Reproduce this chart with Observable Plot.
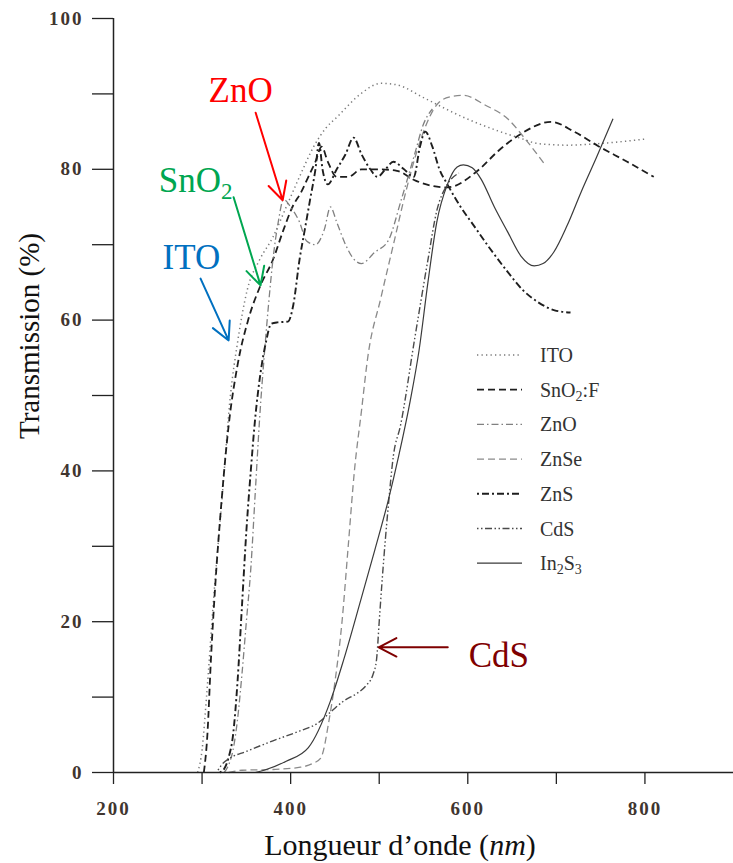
<!DOCTYPE html>
<html><head><meta charset="utf-8">
<script src="https://cdn.jsdelivr.net/npm/d3@7"></script>
<script src="https://cdn.jsdelivr.net/npm/@observablehq/plot@0.6"></script>
<style>body{margin:0;background:#fff}</style>
</head><body><div id="chart"></div>
<script>
// ---- data: wavelength (nm), transmission (%) ----
const ITO = [[295,0],[300,3],[305,10],[313,23],[323,37],[332,50],[340,57],[351,64],[365,68],[380,71],[395,75],[410,79],[426,83],[440,85.5],[453,87],[479,90],[502,91.4],[520,91.2],[550,89.5],[595,86.9],[634,85.1],[660,84.1],[680,83.4],[713,83.2],[747,83.4],[800,84]];
const SnO2F = [[302,0],[306,5],[310,15],[315,25],[322,36],[330,46],[340,54],[352,60],[366,64.6],[380,68],[392,72],[402,75],[412,77],[420,79],[428,81],[435,83],[442,81],[452,79],[465,79],[480,80],[500,80],[520,79.8],[541,78.5],[560,77.8],[577,77.6],[611,79.8],[635,82.5],[660,84.7],[694,86.3],[720,85],[747,83.1],[780,81],[810,79]];
const ZnO = [[325,0],[330,1],[335,3],[340,7],[345,13],[350,20],[355,27],[360,37],[365,47],[370,55],[375,62],[380,68],[386,73],[392,76],[400,75],[410,73],[418,70.5],[428,70],[438,72],[445,75],[452,73],[462,70],[472,68],[480,67.5],[495,69],[510,70.5],[525,76],[540,82],[550,86],[560,88]];
const ZnSe = [[330,0],[345,0.3],[380,0.4],[411,0.7],[425,1.2],[434,1.9],[437,2.9],[442,6],[450,12],[458,20],[465,30],[472,40],[480,48],[487,55],[502,63],[516,70],[530,77],[547,84],[566,88.7],[580,89.6],[595,89.8],[620,88.5],[645,86.7],[665,84],[686,80.8]];
const ZnS = [[320,0],[325,0.5],[330,2],[335,5],[340,12],[345,22],[350,32],[355,40],[360,47],[366,53],[372,57],[378,59.5],[385,59.7],[397,59.8],[403,62],[410,68],[416,72],[422,76],[428,80],[432,83.5],[436,80],[442,78],[452,80],[462,82],[471,84.2],[480,82],[490,80],[498,79],[507,80],[516,81],[528,80],[539,79],[546,83],[552,85],[560,83],[568,80],[577,78],[592,75],[607,72.5],[625,69.5],[645,66.4],[662,64],[679,62.4],[698,61.3],[716,61]];
const CdS = [[318,0.3],[322,1],[330,1.8],[350,2.8],[380,4.2],[410,5.5],[430,6.5],[445,8],[460,9.5],[475,10.5],[485,11.5],[493,13],[497,15],[500,20],[503,25],[507,31],[510,35],[516,42],[524,46],[540,57.5],[555,68],[565,74.5],[577,78],[590,79.5]];
const In2S3 = [[360,0],[370,0.3],[395,1.5],[420,3.3],[445,9.5],[460,15],[479,22.8],[495,29.5],[510,36],[522,42],[535,49.3],[545,56],[555,65],[565,73],[577,78],[588,80.3],[595,80.6],[605,80.2],[615,78.7],[630,75],[645,71.7],[660,68.5],[675,67.2],[685,67.5],[697,69],[712,72.5],[728,77],[745,81.5],[764,86.7]];

const seriesNames = ["ITO","SnO2:F","ZnO","ZnSe","ZnS","CdS","In2S3"];
const seriesData = [ITO, SnO2F, ZnO, ZnSe, ZnS, CdS, In2S3];
const seriesStroke = ["#7a7a7a","#1e1e1e","#808080","#8a8a8a","#1e1e1e","#4a4a4a","#3a3a3a"];
const seriesWidth = [1.5,1.8,1.3,1.3,1.9,1.4,1.2];
const seriesDash = ["1.3,3.2","7,4","7,3,1.5,3","7,4","2,3,7,3","1.5,2.5,1.5,2.5,7,2.5",null];

const xTicks = [200,300,400,500,600,700,800];
const xTickLabels = [200,400,600,800];
const yTicks = [0,10,20,30,40,50,60,70,80,90,100];
const yTickLabels = [0,20,40,60,80,100];

// annotations
const annLabel = ["ZnO","SnO2","ITO","CdS"];
const annColor = ["#ff0000","#00a650","#0070c0","#7f0000"];
const annTextX = [343.5, 292.7, 288, 635];
const annTextY = [90.4, 78.5, 68.2, 15.5];
const arrowFromX = [360.5, 335.6, 298.3, 577.4];
const arrowFromY = [87.5, 76.3, 65.5, 16.6];
const arrowToX = [391, 366, 330, 499.4];
const arrowToY = [75.9, 64.6, 57.3, 16.6];

const ann = annLabel.map((t,i)=>({t, c:annColor[i], x:annTextX[i], y:annTextY[i], x1:arrowFromX[i], y1:arrowFromY[i], x2:arrowToX[i], y2:arrowToY[i]}));

const lineMarks = seriesData.map((d,i)=>Plot.line(d.map(([x,y])=>({x,y})), {
  x:"x", y:"y", stroke:seriesStroke[i], strokeWidth:seriesWidth[i],
  strokeDasharray: seriesDash[i] || undefined, curve:"monotone-x", strokeLinecap:"butt"
}));

const plot = Plot.plot({
  width:733, height:863,
  marginLeft:113, marginRight:0, marginTop:18, marginBottom:91,
  x:{domain:[200,900]},
  y:{domain:[0,100]},
  style:{fontFamily:"'Liberation Serif', serif", background:"#fff"},
  marks:[
    ...lineMarks,
    Plot.axisY(yTicks, {tickSize:21, tickPadding:9, tickFormat:d=>yTickLabels.includes(d)?d:"", label:null, strokeWidth:1.3, stroke:"#222"}),
    Plot.axisX(xTicks, {tickSize:12, tickPadding:17, tickFormat:d=>xTickLabels.includes(d)?d:"", label:null, strokeWidth:1.3, stroke:"#222"}),
    Plot.ruleX([200], {stroke:"#222", strokeWidth:1.5}),
    Plot.ruleY([0], {stroke:"#222", strokeWidth:1.6}),
    Plot.arrow(ann, {x1:"x1", y1:"y1", x2:"x2", y2:"y2", stroke:"c", strokeWidth:2, headLength:15, headAngle:55}),
    Plot.text(ann, {x:"x", y:"y", text:"t", fill:"c", fontSize:35, fontFamily:"'Liberation Serif', serif"})
  ]
});
document.getElementById("chart").append(plot);

const svg = d3.select(plot);
const tickLabelStrings = [...yTickLabels, ...xTickLabels].map(String);
svg.selectAll("text").filter(function(){return tickLabelStrings.includes(this.textContent.trim());})
  .style("font-size","19px").style("font-weight","bold").style("letter-spacing","2px").style("fill","#40352f");

// subscript for SnO2 annotation
svg.selectAll("text").filter(function(){return this.textContent==="SnO2";}).each(function(){
  const t=d3.select(this); t.text(null);
  t.append("tspan").text("SnO");
  t.append("tspan").attr("font-size",23).attr("dy","0.3em").text("2");
});

// axis titles
svg.append("text").attr("transform","translate(32,336) rotate(-90)").attr("text-anchor","middle")
  .attr("dominant-baseline","middle").attr("font-family","'Liberation Serif', serif").attr("font-size",29)
  .attr("fill","#111")
  .text("Transmission (%)");
const xt = svg.append("text").attr("x",400).attr("y",855).attr("text-anchor","middle")
  .attr("font-family","'Liberation Serif', serif").attr("font-size",30).attr("fill","#111");
xt.append("tspan").text("Longueur d\u2019onde (");
xt.append("tspan").attr("font-style","italic").text("nm");
xt.append("tspan").text(")");

// legend
const lg = svg.append("g");
const legendParts = [[["ITO"]],[["SnO"],["2",1],[":F"]],[["ZnO"]],[["ZnSe"]],[["ZnS"]],[["CdS"]],[["In"],["2",1],["S"],["3",1]]];
seriesNames.forEach((n,i)=>{
  const y = 355 + i*34.7;
  lg.append("line").attr("x1",477).attr("x2",522).attr("y1",y).attr("y2",y)
    .attr("stroke",seriesStroke[i]).attr("stroke-width",seriesWidth[i]).attr("stroke-dasharray",seriesDash[i]);
  const t = lg.append("text").attr("x",540).attr("y",y+7).attr("text-anchor","start")
    .attr("font-family","'Liberation Serif', serif").attr("font-size",20).attr("fill","#333");
  let sub=false;
  legendParts[i].forEach(([s,isSub])=>{
    const ts=t.append("tspan").text(s);
    if(isSub && !sub){ts.attr("font-size",14).attr("dy",4); sub=true;}
    else if(!isSub && sub){ts.attr("dy",-4); sub=false;}
  });
});
</script>
</body></html>
